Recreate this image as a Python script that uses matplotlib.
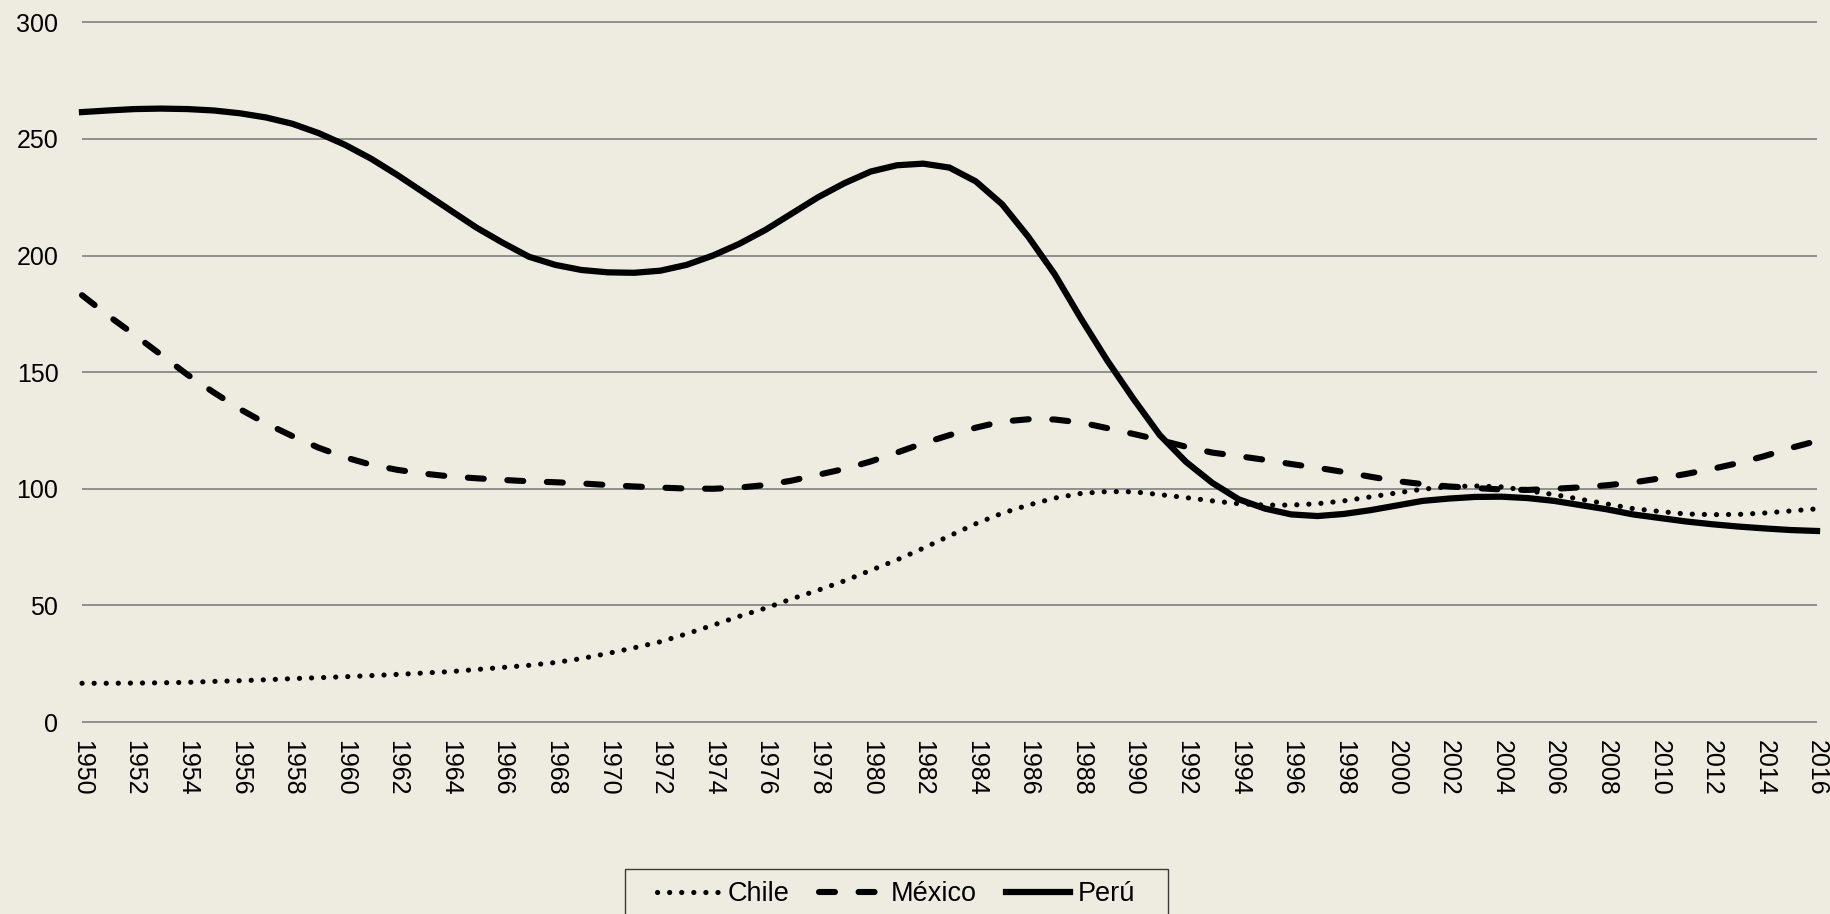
import matplotlib
matplotlib.use("Agg")
from matplotlib import pyplot as plt
from matplotlib.patches import Rectangle

years = list(range(1950, 2017))

chile = [16.6, 16.6, 16.7, 16.8, 17.0, 17.4, 17.7, 18.1, 18.6, 19.0,
         19.4, 19.9, 20.4, 21.0, 21.6, 22.5, 23.4, 24.3, 25.5, 27.2,
         29.4, 31.8, 34.4, 37.8, 41.5, 45.3, 48.8, 52.8, 56.5, 60.5,
         65.0, 69.5, 74.5, 79.8, 85.0, 89.5, 93.0, 96.0, 98.0, 98.8,
         98.7, 97.5, 96.2, 94.8, 93.6, 93.0, 93.0, 93.6, 94.8, 96.5,
         98.2, 99.8, 100.9, 101.2, 100.8, 99.2, 97.5, 95.5, 93.5, 91.5,
         90.3, 89.2, 88.9, 89.0, 89.6, 90.5, 91.4]

mexico = [183.0, 174.2, 166.0, 157.5, 149.0, 141.4, 134.2, 128.0, 122.6, 117.6,
          113.5, 110.3, 108.1, 106.5, 105.3, 104.5, 103.8, 103.2, 102.8, 102.3,
          101.6, 101.0, 100.5, 100.1, 100.0, 100.5, 101.6, 103.5, 106.0, 108.5,
          111.7, 115.5, 119.5, 123.0, 126.2, 128.8, 129.8, 129.7, 128.4, 126.0,
          123.5, 120.9, 118.0, 115.5, 114.0, 112.4, 110.6, 109.0, 107.2, 105.2,
          103.3, 102.0, 101.0, 100.3, 99.7, 99.5, 100.0, 100.6, 101.5, 102.7,
          104.4, 106.3, 108.5, 111.0, 114.0, 117.5, 120.5]

peru = [261.5, 262.2, 262.8, 263.0, 262.8, 262.2, 261.0, 259.2, 256.5, 252.5,
        247.5, 241.5, 234.5, 227.0, 219.5, 212.0, 205.5, 199.5, 196.0, 193.8,
        192.8, 192.6, 193.5, 196.0, 200.0, 205.0, 211.0, 218.0, 225.0, 231.0,
        236.0, 238.7, 239.4, 237.7, 231.8, 222.0, 208.0, 192.0, 173.0, 155.0,
        138.5, 123.0, 111.5, 102.5, 95.5, 91.5, 89.0, 88.3, 89.2, 90.8,
        92.8, 94.8, 95.8, 96.5, 96.6, 96.0, 94.8, 93.0, 91.2, 89.0,
        87.5, 86.0, 84.8, 83.8, 83.0, 82.3, 81.9]

y_ticks = [0, 50, 100, 150, 200, 250, 300]
x_ticks = list(range(1950, 2017, 2))

bg = "#eeece1"
grid_col = "#888888"

plt.rcParams["font.family"] = ["Liberation Sans", "DejaVu Sans"]
plt.rcParams["lines.scale_dashes"] = False

W, H = 1831, 914
fig = plt.figure(figsize=(W / 100, H / 100), dpi=100, facecolor=bg)
ax = fig.add_axes([82 / W, 1 - 722 / H, (1817 - 82) / W, (722 - 22.3) / H])
ax.set_facecolor(bg)

ax.hlines(y_ticks, 1950, 2016, colors=grid_col, lw=1.3, clip_on=False, zorder=1)

ax.plot(years, chile, color="black", lw=3.7, linestyle=(0, (0.1, 8.6)),
        dash_capstyle="round", label="Chile", zorder=3, clip_on=False)
ax.plot(years, mexico, color="black", lw=4.4, linestyle=(0, (11.5, 17.0)),
        dash_capstyle="round", label="México", zorder=4, clip_on=False)
ax.plot(years, peru, color="black", lw=4.5, solid_joinstyle="round",
        label="Perú", zorder=5, clip_on=False)

ax.set_xlim(1950, 2016)
ax.set_ylim(0, 300)
for s in ax.spines.values():
    s.set_visible(False)

ax.set_yticks(y_ticks)
ax.set_xticks(x_ticks)
ax.set_xticklabels([str(y) for y in x_ticks], rotation=270)
ax.tick_params(axis="y", length=0, pad=17, labelsize=18)
ax.tick_params(axis="x", length=0, pad=13, labelsize=18)

leg = fig.legend(loc="center left", bbox_to_anchor=(643 / W, 1 - 894 / H),
                 ncol=3, frameon=False, fontsize=19.5, borderpad=0,
                 handlelength=2.35, handletextpad=0.28, columnspacing=1.1)

fig.patches.append(Rectangle((625 / W, -0.05), (1168 - 625) / W, 0.05 + 1 - 869 / H,
                             transform=fig.transFigure, fill=False,
                             edgecolor="#3a3a3a", lw=1.0))

fig.savefig("out.png", dpi=100, facecolor=bg)
